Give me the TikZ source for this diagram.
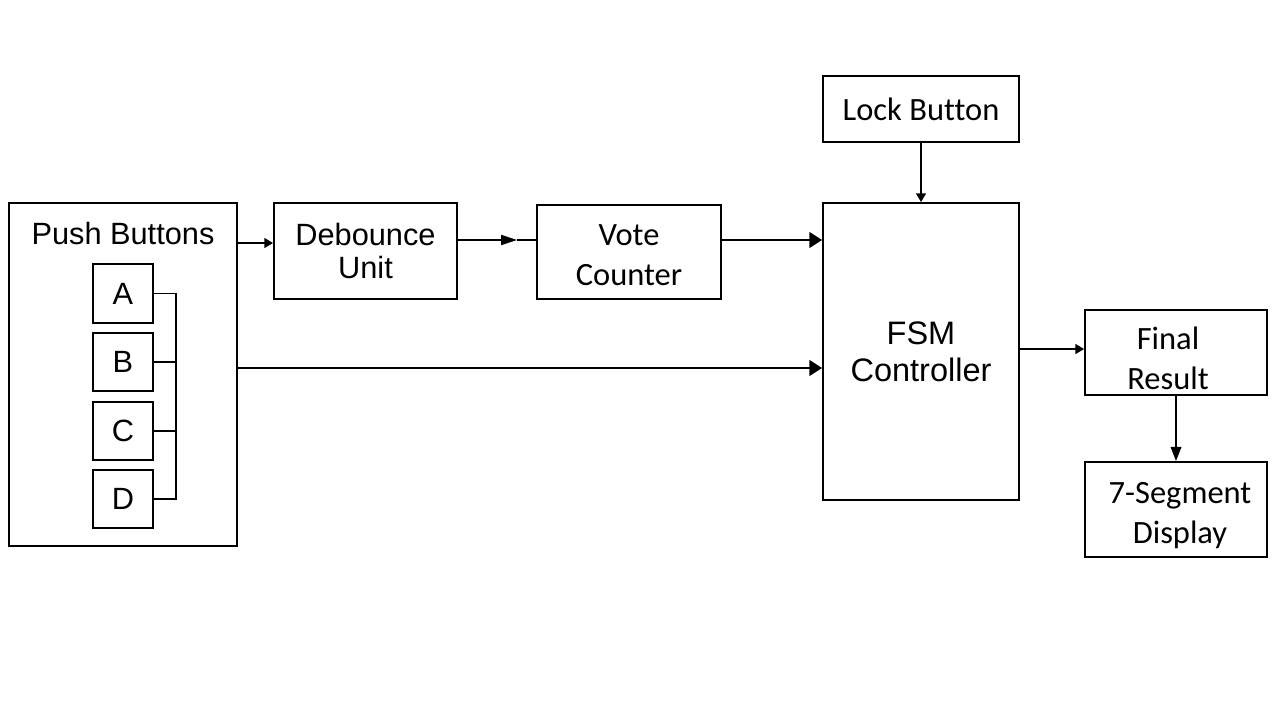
\documentclass[tikz,border=0pt]{standalone}
\usepackage{fontspec}
\usepackage{tikz}
\usetikzlibrary{arrows.meta}
\setmainfont{Liberation Sans}
\newfontfamily\calfont[Ligatures=NoCommon]{Carlito}

\begin{document}
\begin{tikzpicture}[x=0.02cm, y=-0.02cm,
        blk/.style={draw, line width=1.1pt, inner sep=0pt, align=center},
        arr/.style={line width=0.9pt, -{Triangle[length=5pt, width=5.7pt]}},
        bigarr/.style={line width=0.9pt, -{Triangle[length=7.2pt, width=9pt]}},
        arial/.style={font=\fontsize{17.5}{20}\selectfont},
        calib/.style={font=\calfont\fontsize{18.5}{22.7}\selectfont}]
        \useasboundingbox (0,0) rectangle (1280,720);

        % inputs
        \node[blk, minimum width=4.56cm, minimum height=6.86cm] (pb) at (123,374.5) {};
        \node[arial] (pbl) at (123,234) {Push Buttons};
        \foreach \n/\y/\h in {A/293.5/1.18, B/362/1.16, C/431/1.16, D/499/1.16}
            \node[blk, arial, minimum width=1.2cm, minimum height=\h cm] (\n) at (123,\y) {\n};
        \coordinate (bar) at (176,0);
        \draw[line width=0.9pt] (A.east) -- (A.east -| bar) -- (D.east -| bar) -- (D.east);
        \foreach \n in {B,C}
            \draw[line width=0.9pt] (\n.east) -- (\n.east -| bar);

        \node[blk, arial, font=\fontsize{17.5}{19.3}\selectfont, minimum width=3.66cm, minimum height=1.92cm] (deb) at (365.5,251) {Debounce\\Unit};
        \node[blk, minimum width=3.68cm, minimum height=1.88cm,
            label={[calib, align=center, yshift=-0.07cm]center:Vote\\Counter}] (vote) at (629,252) {};
        \node[blk, calib, minimum width=3.92cm, minimum height=1.32cm] (lock) at (921,109) {Lock Button};
        \node[blk, arial, font=\fontsize{18.5}{21}\selectfont, minimum width=3.92cm, minimum height=5.94cm] (fsm) at (921,351.5) {FSM\\Controller};
        \node[blk, minimum width=3.64cm, minimum height=1.7cm,
            label={[calib, align=center, xshift=-0.16cm, yshift=-0.12cm]center:Final\\Result}] (res) at (1176,352.5) {};
        \node[blk, minimum width=3.64cm, minimum height=1.9cm,
            label={[calib, align=center, xshift=0.08cm, yshift=-0.12cm]center:7-Segment\\Display}] (seg) at (1176,509.5) {};

        % connections
        \draw[arr] (pb.east |- 0,243) -- (deb.west |- 0,243);
        \coordinate (mid) at (517,240);
        \draw[line width=0.9pt, -{Triangle[length=9pt, width=5.7pt]}] (deb.east |- mid) -- (mid);
        \draw[line width=0.9pt] (mid) -- (vote.west |- mid);
        \draw[bigarr] (vote.east |- mid) -- (fsm.west |- mid);
        \draw[bigarr] (pb.east |- 0,368) -- (fsm.west |- 0,368);
        \draw[arr] (lock.south) -- (fsm.north);
        \draw[arr] (fsm.east |- 0,349) -- (res.west |- 0,349);
        \draw[line width=0.9pt, -{Triangle[length=8pt, width=6pt]}] (res.south) -- (seg.north);
\end{tikzpicture}
\end{document}
